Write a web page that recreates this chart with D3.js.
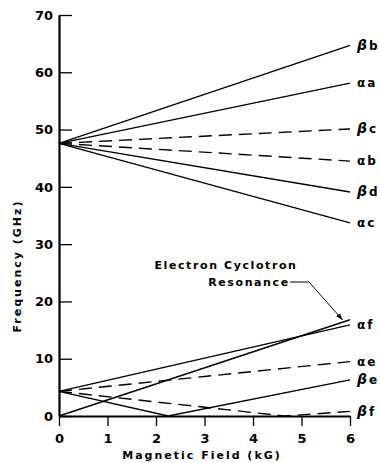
<!DOCTYPE html>
<html>
<head>
<meta charset="utf-8">
<script src="https://cdn.jsdelivr.net/npm/d3@7.9.0/dist/d3.min.js"></script>
<style>
  body { margin: 0; background: #fff; }
  svg { display: block; font-family: "DejaVu Sans", sans-serif; }
</style>
</head>
<body>
<div id="chart"></div>
<script>
// tick values
const xTicks = [0, 1, 2, 3, 4, 5, 6];
const yTicks = [0, 10, 20, 30, 40, 50, 60, 70];

// curve names, greek letter + suffix
const lineNames = ['βb', 'αa', 'βc', 'αb', 'βd', 'αc', 'αf', 'αe', 'βe', 'βf'];
const lineDashed = [false, false, true, true, false, false, false, true, false, true];
// frequency (GHz) at B = 0, the turning point (if any) and B = 6 kG
const lineX = [
    [0, 6], [0, 6], [0, 6], [0, 6], [0, 6], [0, 6],
    [0, 6], [0, 6], [0, 2.25, 6], [0, 4.65, 6],
];
const lineY = [
    [47.6, 64.7], [47.6, 58.1], [47.6, 50.1], [47.6, 44.5], [47.6, 39.1], [47.6, 33.7],
    [4.3, 15.9], [4.3, 9.5], [4.3, 0, 6.3], [4.3, 0, 0.8],
];

// electron cyclotron resonance line
const ecrX = [0, 6];
const ecrY = [0, 16.8];
const ecrText = ['Electron Cyclotron', 'Resonance'];

const width = 380;
const height = 463;

const xScale = d3.scaleLinear().domain([0, 6]).range([59, 350]);
const yScale = d3.scaleLinear().domain([0, 70]).range([416, 15]);

const svg = d3.select('#chart')
    .append('svg')
    .attr('width', width)
    .attr('height', height)
    .attr('viewBox', `0 0 ${width} ${height}`);

svg.append('rect').attr('width', width).attr('height', height).attr('fill', '#fff');

const line = d3.line()
    .x((d) => xScale(d[0]))
    .y((d) => yScale(d[1]));

// mode curves
const series = lineNames.map((name, i) => ({
    name,
    dashed: lineDashed[i],
    points: lineX[i].map((x, j) => [x, lineY[i][j]]),
}));

svg.append('g')
    .selectAll('path')
    .data(series)
    .join('path')
    .attr('d', (d) => line(d.points))
    .attr('fill', 'none')
    .attr('stroke', '#000')
    .attr('stroke-width', 1.4)
    .attr('stroke-dasharray', (d) => d.dashed ? '13,7' : null);

// curve labels at the right end
svg.append('g')
    .selectAll('text')
    .data(series)
    .join('text')
    .attr('x', xScale(6) + 7)
    .attr('y', (d) => yScale(d.points[d.points.length - 1][1]))
    .attr('dy', '0.35em')
    .attr('font-size', 12)
    .attr('font-weight', 'bold')
    .attr('letter-spacing', 2)
    .each(function (d) {
        const t = d3.select(this);
        t.append('tspan')
            .text(d.name[0])
            .attr('font-size', d.name[0] === 'β' ? 14 : 12)
            .attr('font-style', d.name[0] === 'β' ? 'italic' : null);
        t.append('tspan').text(d.name.slice(1));
    });

// electron cyclotron resonance
const ecrPoints = ecrX.map((x, i) => [x, ecrY[i]]);
svg.append('path')
    .attr('d', line(ecrPoints))
    .attr('fill', 'none')
    .attr('stroke', '#000')
    .attr('stroke-width', 1.4);

// annotation text + leader arrow
const ann = svg.append('g').attr('font-size', 11).attr('font-weight', 'bold').attr('letter-spacing', 1.6);
ann.append('text').attr('x', 226).attr('y', 269).attr('text-anchor', 'middle').text(ecrText[0]);
ann.append('text').attr('x', 249).attr('y', 286).attr('text-anchor', 'middle').text(ecrText[1]);

svg.append('defs').append('marker')
    .attr('id', 'arrow')
    .attr('viewBox', '0 0 10 10')
    .attr('refX', 10).attr('refY', 5)
    .attr('markerWidth', 7).attr('markerHeight', 7)
    .attr('orient', 'auto')
    .append('path')
    .attr('d', 'M0,1.5 L10,5 L0,8.5 z')
    .attr('fill', '#000');

const tip = [xScale(5.85), yScale(16.4) - 2];
svg.append('path')
    .attr('d', `M290,282 L309,282 L${tip[0]},${tip[1]}`)
    .attr('fill', 'none')
    .attr('stroke', '#000')
    .attr('stroke-width', 1)
    .attr('marker-end', 'url(#arrow)');

// axes
const xAxis = d3.axisBottom(xScale)
    .tickValues(xTicks)
    .tickFormat(d3.format('d'))
    .tickSize(10).tickSizeOuter(0).tickPadding(8);
const yAxis = d3.axisLeft(yScale)
    .tickValues(yTicks)
    .tickFormat(d3.format('d'))
    .tickSize(-13).tickSizeOuter(0);

const gx = svg.append('g')
    .attr('transform', `translate(0, ${yScale(0)})`)
    .call(xAxis);
const gy = svg.append('g')
    .attr('transform', `translate(${xScale(0)}, 0)`)
    .call(yAxis);

[gx, gy].forEach((g) => {
    g.select('.domain').attr('stroke', '#000').attr('stroke-width', 2.2);
    g.selectAll('.tick line').attr('stroke', '#000').attr('stroke-width', 1.3);
    g.selectAll('.tick text')
        .attr('fill', '#000')
        .attr('font-size', 13)
        .attr('font-weight', 'bold')
        .attr('font-family', '"DejaVu Sans", sans-serif');
});
// y tick labels sit left of the axis, ticks point inward
gy.selectAll('.tick text').attr('x', -6);

// axis titles
svg.append('text')
    .attr('x', 202)
    .attr('y', 459)
    .attr('text-anchor', 'middle')
    .attr('font-size', 11)
    .attr('font-weight', 'bold')
    .attr('letter-spacing', 2)
    .text('Magnetic Field (kG)');

svg.append('text')
    .attr('transform', 'translate(21, 266) rotate(-90)')
    .attr('text-anchor', 'middle')
    .attr('font-size', 11)
    .attr('font-weight', 'bold')
    .attr('letter-spacing', 2)
    .text('Frequency (GHz)');
</script>
</body>
</html>
